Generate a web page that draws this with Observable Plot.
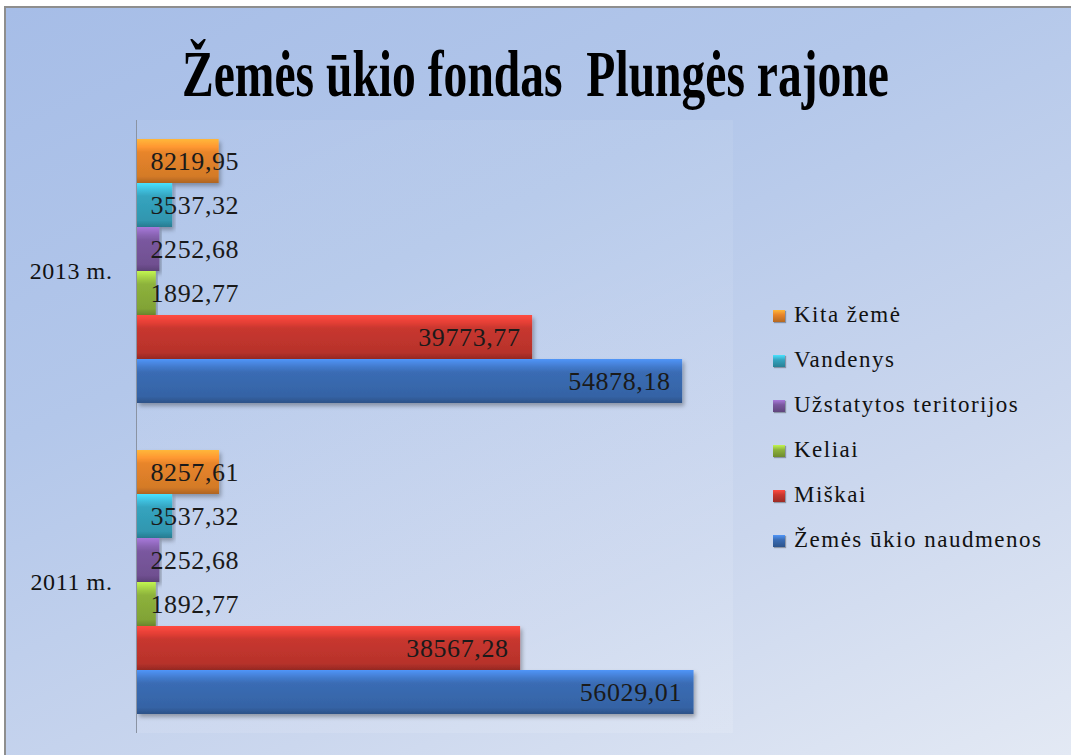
<!DOCTYPE html>
<html><head><meta charset="utf-8">
<script src="https://cdn.jsdelivr.net/npm/d3@7"></script>
<script src="https://cdn.jsdelivr.net/npm/@observablehq/plot@0.6"></script>
<style>
html,body{margin:0;padding:0;background:#fff;}
#wrap{position:relative;width:1071px;height:755px;overflow:hidden;background:#fff;}
#bg{position:absolute;left:4px;top:6px;right:0;bottom:0;border-left:2px solid #8e8e8e;border-top:2px solid #8e8e8e;
  background:linear-gradient(155deg,#a6bde7 0%,#b3c7ea 35%,#cbd7ee 70%,#e3e9f4 100%);}
#plotarea{position:absolute;left:137px;top:120px;width:596px;height:613px;background:linear-gradient(160deg,rgba(255,255,255,0.05),rgba(255,255,255,0.12));}
#axisline{position:absolute;left:136px;top:120px;width:1px;height:613px;background:#8a93a3;}
#title{position:absolute;top:41px;left:0;width:1071px;text-align:center;white-space:nowrap;}
#title span{display:inline-block;font-family:"Liberation Serif";font-weight:bold;font-size:66px;line-height:1;color:#000;transform-origin:center;}
#chart{position:absolute;left:0;top:0;}
#legend{position:absolute;left:773px;top:0;}
.li{position:absolute;left:0;white-space:nowrap;height:26px;line-height:26px;}
.sw{position:absolute;left:0;top:8px;width:12px;height:12px;}
.lt{position:absolute;left:21px;top:0;font-family:"Liberation Serif";font-size:23px;letter-spacing:1.5px;color:#111;}
</style>
</head><body>
<div id="wrap">
  <div id="bg"></div>
  <div id="plotarea"></div>
  <div id="title"><span id="tspan">Žemės ūkio fondas&nbsp; Plungės rajone</span></div>
  <div id="chart"></div>
  <div id="axisline"></div>
  <div id="legend"></div>
</div>
<script>
const years = ["2013 m.", "2011 m."];
const categories = ["Kita žemė", "Vandenys", "Užstatytos teritorijos", "Keliai", "Miškai", "Žemės ūkio naudmenos"];
const values2013 = [8219.95, 3537.32, 2252.68, 1892.77, 39773.77, 54878.18];
const values2011 = [8257.61, 3537.32, 2252.68, 1892.77, 38567.28, 56029.01];
const colors = ["#e8852b", "#35a4bf", "#7a589f", "#8db23b", "#c8372f", "#3a6cb4"];
const xMax = 60000;

const data = [];
categories.forEach((c, i) => data.push({year: years[0], category: c, value: values2013[i]}));
categories.forEach((c, i) => data.push({year: years[1], category: c, value: values2011[i]}));

const fmt = v => v.toFixed(2).replace(".", ",");
const big = data.filter(d => d.value >= 10000);
const small = data.filter(d => d.value < 10000);
const serif = "Liberation Serif";

const chart = Plot.plot({
  width: 1071, height: 755,
  marginLeft: 137, marginRight: 338, marginTop: 120, marginBottom: 22,
  style: {background: "transparent", fontFamily: serif, fontSize: "24px", color: "#111"},
  x: {domain: [0, xMax], axis: null},
  y: {domain: categories, padding: 0, axis: null},
  fy: {domain: years, paddingInner: 0.145, paddingOuter: 0.058, label: null, axis: "left", tickSize: 0, tickPadding: 25},
  color: {domain: categories, range: colors},
  marks: [
    Plot.barX(data, {fy: "year", y: "category", x: "value", fill: "category"}),
    Plot.text(big, {fy: "year", y: "category", x: "value", text: d => fmt(d.value), textAnchor: "end", dx: -12, fontSize: 26, fontFamily: serif, fill: "#1a1a1a"}),
    Plot.text(small, {fy: "year", y: "category", frameAnchor: "left", text: d => fmt(d.value), textAnchor: "start", dx: 13, fontSize: 26, fontFamily: serif, fill: "#1a1a1a"})
  ]
});
document.getElementById("chart").appendChild(chart);

// gradients & shadow
const svg = d3.select(chart);
svg.selectAll("text").style("font-family", serif).style("letter-spacing", "0.6px");
const defs = svg.insert("defs", ":first-child");
const filt = defs.append("filter").attr("id", "shadow").attr("x", "-5%").attr("y", "-20%").attr("width", "115%").attr("height", "150%");
filt.append("feDropShadow").attr("dx", 2).attr("dy", 3).attr("stdDeviation", 2).attr("flood-color", "#000").attr("flood-opacity", 0.3);
const gradId = {};
colors.forEach((c, i) => {
  const base = d3.color(c);
  const g = defs.append("linearGradient").attr("id", "g" + i).attr("x1", 0).attr("y1", 0).attr("x2", 0).attr("y2", 1);
  g.append("stop").attr("offset", "0%").attr("stop-color", d3.color(c).brighter(0.9).formatHex());
  g.append("stop").attr("offset", "18%").attr("stop-color", d3.color(c).brighter(0.35).formatHex());
  g.append("stop").attr("offset", "30%").attr("stop-color", base.formatHex());
  g.append("stop").attr("offset", "85%").attr("stop-color", d3.color(c).darker(0.25).formatHex());
  g.append("stop").attr("offset", "100%").attr("stop-color", d3.color(c).darker(0.8).formatHex());
  gradId[base.formatHex()] = "url(#g" + i + ")";
});
svg.selectAll("rect").each(function() {
  const f = this.getAttribute("fill");
  if (!f) return;
  const h = d3.color(f);
  if (h && gradId[h.formatHex()]) {
    this.setAttribute("fill", gradId[h.formatHex()]);
    this.setAttribute("filter", "url(#shadow)");
  }
});

// legend (first category on top, as in the reference)
const legend = document.getElementById("legend");
categories.forEach((c, i) => {
  const item = document.createElement("div");
  item.className = "li";
  item.style.top = (302 + i * 45) + "px";
  const sw = document.createElement("div");
  sw.className = "sw";
  const col = d3.color(colors[i]);
  sw.style.background = `linear-gradient(180deg, ${col.brighter(0.9).formatHex()} 0%, ${col.formatHex()} 40%, ${col.darker(0.7).formatHex()} 100%)`;
  sw.style.boxShadow = "1px 1px 1px rgba(0,0,0,0.3)";
  const t = document.createElement("span");
  t.className = "lt";
  t.textContent = c;
  item.appendChild(sw); item.appendChild(t);
  legend.appendChild(item);
});

// title fit
const ts = document.getElementById("tspan");
const w = ts.getBoundingClientRect().width;
ts.style.transform = `scaleX(${707 / w})`;
</script>
</body></html>
